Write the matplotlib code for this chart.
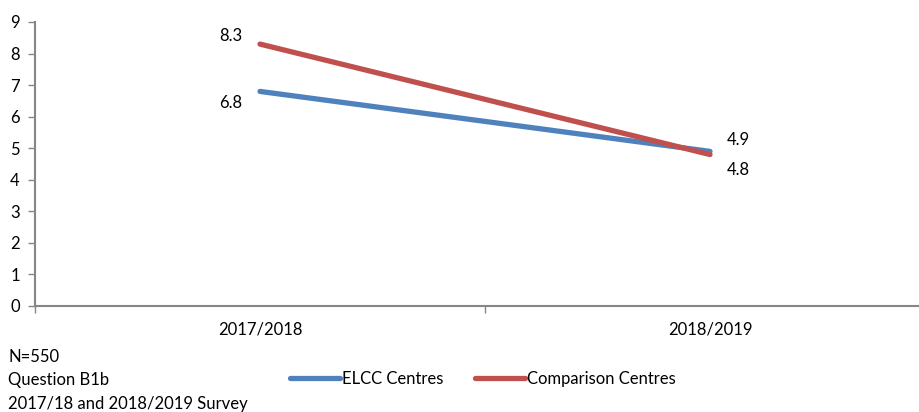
import matplotlib
matplotlib.use("Agg")
import matplotlib.pyplot as plt
from matplotlib.lines import Line2D

categories = ["2017/2018", "2018/2019"]
elcc = [6.8, 4.9]
comparison = [8.3, 4.8]
series_names = ["ELCC Centres", "Comparison Centres"]
notes = ["N=550", "Question B1b", "2017/18 and 2018/2019 Survey"]

plt.rcParams['font.family'] = ['Lato', 'DejaVu Sans']
fs = 12
W, H = 919, 412
fig = plt.figure(figsize=(W/100, H/100), dpi=100)
ax = fig.add_axes([35/W, (H-306)/H, 900/W, 284/H])

blue = "#4F81BD"
red = "#C0504D"
x = list(range(len(categories)))
ax.plot(x, elcc, color=blue, lw=3.8, solid_capstyle='round', zorder=3)
ax.plot(x, comparison, color=red, lw=3.8, solid_capstyle='round', zorder=4)

ax.set_xlim(-0.5, 1.5)
ax.set_ylim(0, 9)
ax.set_yticks(range(0, 10))
ax.set_xticks([-0.5, 0.5, 1.5])
ax.set_xticklabels([])
ax.set_xticks(x, minor=True)
ax.set_xticklabels(categories, minor=True)
ax.tick_params(axis='x', which='minor', length=0, pad=11, labelsize=fs, colors='black')
ax.tick_params(axis='x', which='major', length=5, color='#868686', width=1)
ax.tick_params(axis='y', length=5, color='#868686', width=1, labelsize=fs, pad=6)
for s in ['top', 'right']:
    ax.spines[s].set_visible(False)
for s in ['left', 'bottom']:
    ax.spines[s].set_color('#868686')
    ax.spines[s].set_linewidth(1.5)

# data labels
ax.annotate(f"{comparison[0]}", (x[0], comparison[0]), xytext=(-13, 6), textcoords='offset points',
            ha='right', va='center', fontsize=fs)
ax.annotate(f"{elcc[0]}", (x[0], elcc[0]), xytext=(-13, -8), textcoords='offset points',
            ha='right', va='center', fontsize=fs)
ax.annotate(f"{elcc[1]}", (x[1], elcc[1]), xytext=(12, 8), textcoords='offset points',
            ha='left', va='center', fontsize=fs)
ax.annotate(f"{comparison[1]}", (x[1], comparison[1]), xytext=(12, -11), textcoords='offset points',
            ha='left', va='center', fontsize=fs)

# notes
for i, t in enumerate(notes):
    fig.text(8/W, 1 - (357 + i*23.5)/H, t, fontsize=fs, ha='left', va='center')

handles = [Line2D([0], [0], color=blue, lw=3.8, solid_capstyle='round'),
           Line2D([0], [0], color=red, lw=3.8, solid_capstyle='round')]
fig.legend(handles, series_names, loc='center', bbox_to_anchor=(483/W, 1 - 379/H),
           ncol=2, frameon=False, fontsize=fs, handlelength=3.0, handletextpad=0.1,
           columnspacing=1.9)

fig.savefig("out.png", dpi=100)
